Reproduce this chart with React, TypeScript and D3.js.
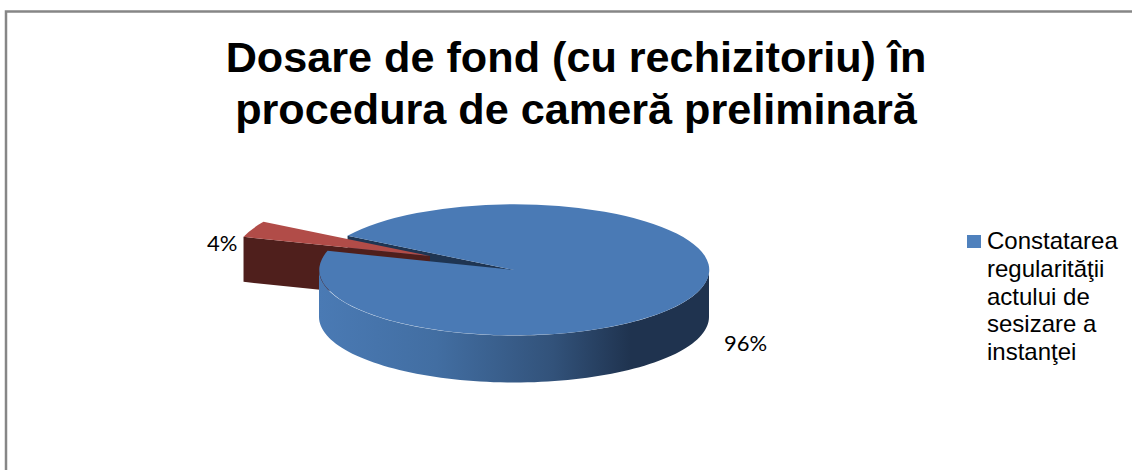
import React from "react";
import * as d3 from "d3";

const categories = ["Constatarea regularităţii actului de sesizare a instanţei", "Alte soluţii"];
const values = [96, 4];
const valueLabels = ["96%", "4%"];
const titleLines = ["Dosare de fond (cu rechizitoriu) în", "procedura de cameră preliminară"];
const legendLines = ["Constatarea", "regularităţii", "actului de", "sesizare a", "instanţei"];

const W = 1132, H = 470;
const cx = 514, cy = 270, rx = 195, ry = 65.5, depth = 47, redDepth = 45;
const explodeX = -84, explodeY = -14;
const rad = (deg: number) => (deg * Math.PI) / 180;

const pie = d3.pie<number>().sort(null).startAngle(rad(301.4)).endAngle(rad(301.4 + 360));
const slices = pie(values);
const unitArc = d3.arc<any>().innerRadius(0).outerRadius(1);

const sx = d3.scaleLinear().domain([-1, 1]).range([cx - rx, cx + rx]);
const sy = d3.scaleLinear().domain([-1, 1]).range([cy - ry, cy + ry]);
const px = (a: number) => sx(Math.sin(a));
const py = (a: number) => sy(-Math.cos(a));
const line = d3.line<[number, number]>();

const blue = slices[0], red = slices[1];
const wallAngles = d3.range(rad(90), rad(270.01), rad(2));
const wallTop = wallAngles.map((a) => [px(a), py(a)] as [number, number]);
const wallBottom = wallTop.map(([x, y]) => [x, y + depth] as [number, number]).reverse();
const sideWall = line([...wallTop, ...wallBottom]) + "Z";

const cutWall = (a: number, d: number) =>
  line([
    [cx, cy],
    [px(a), py(a)],
    [px(a), py(a) + d],
    [cx, cy + d],
  ]) + "Z";

export default function App() {
  return (
    <svg width={W} height={H} style={{ position: "absolute", left: 0, top: 0, background: "#fff" }}>
      <defs>
        <linearGradient id="wall" gradientUnits="userSpaceOnUse" x1={cx - rx} x2={cx + rx} y1={0} y2={0}>
          <stop offset="0" stopColor="#4a7ab4" />
          <stop offset="0.3" stopColor="#426ea2" />
          <stop offset="0.6" stopColor="#32527a" />
          <stop offset="0.8" stopColor="#1f334f" />
          <stop offset="1" stopColor="#1f334f" />
        </linearGradient>
      </defs>
      <path d={`M6 470V11.5H1132`} fill="none" stroke="#868686" strokeWidth={2.5} />

      <g fontFamily="'Liberation Sans', Arial, sans-serif" fontWeight="bold" fontSize={43.2} fill="#000" textAnchor="middle">
        {titleLines.map((t, i) => (
          <text key={i} x={576} y={72 + i * 52}>{t}</text>
        ))}
      </g>

      <path d={cutWall(blue.startAngle, depth)} fill="#1f3552" />

      <g transform={`translate(${explodeX},${explodeY})`}>
        <path d={cutWall(red.startAngle, redDepth)} fill="#4f1f1c" />
        <path d={unitArc(red) as string} transform={`translate(${cx},${cy}) scale(${rx},${ry})`} fill="#b14c48" />
      </g>

      <path d={sideWall} fill="url(#wall)" />
      <path d={unitArc(blue) as string} transform={`translate(${cx},${cy}) scale(${rx},${ry})`} fill="#4a7ab5" stroke="#4a7ab5" strokeWidth={0} />

      <g fontFamily="Lato, sans-serif" fontSize={22} fill="#000">
        <text x={207} y={251}>{valueLabels[1]}</text>
        <text x={724} y={351}>{valueLabels[0]}</text>
      </g>

      <rect x={967} y={235} width={14} height={13} fill="#4f81bd" />
      <g fontFamily="'Liberation Sans', Arial, sans-serif" fontSize={24} fill="#000">
        {legendLines.map((t, i) => (
          <text key={i} x={987} y={249 + i * 27.75}>{t}</text>
        ))}
      </g>
      <title>{categories[0]}</title>
    </svg>
  );
}
